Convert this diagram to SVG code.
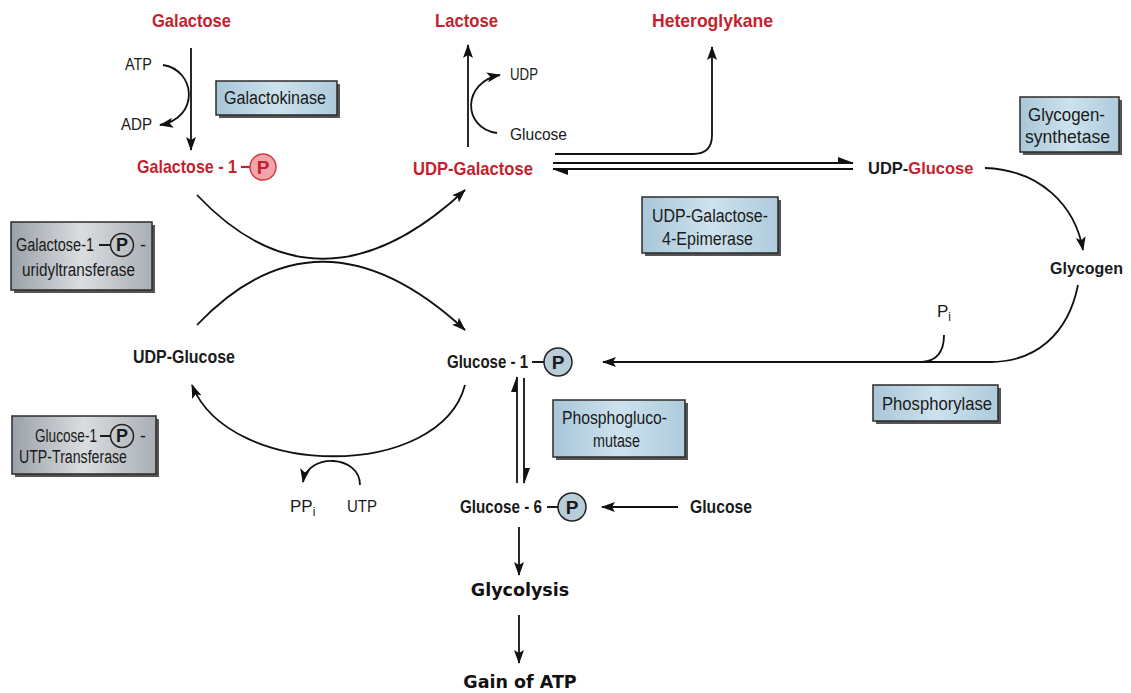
<svg xmlns="http://www.w3.org/2000/svg" width="1131" height="693" viewBox="0 0 1131 693">
<defs>
<style>
text{font-family:"Liberation Sans",Arial,sans-serif;fill:#1a1a1a}
.b{font-weight:bold;font-size:19px}
.red{fill:#c41f2e}
.s{font-size:17px}
.bx{font-size:18px}
.gl{font-family:"DejaVu Sans",Verdana,sans-serif;font-weight:bold;font-size:17.5px;fill:#111}
.c{stroke:#111;stroke-width:1.8;fill:none}
.ar{marker-end:url(#ah)}
.hf{marker-end:url(#half)}
.d{stroke:#1a1a1a;stroke-width:2}
.dr{stroke:#c41f2e;stroke-width:2.2}
.box{stroke:#2b2b2b;stroke-width:1.5}
.sh{fill:#555}
.blue{fill:url(#gb)}
.gray{fill:url(#gg)}
.pb{fill:#b9cdd9;stroke:#222;stroke-width:1.5}
.pg{fill:none;stroke:#222;stroke-width:1.5}
.pr{fill:#f4a5aa;stroke:#d23a48;stroke-width:1.5}
</style>
<linearGradient id="gb" x1="0" y1="0" x2="1" y2="0">
<stop offset="0" stop-color="#a8c6d8"/><stop offset="0.5" stop-color="#cde2ed"/><stop offset="1" stop-color="#aecbdc"/>
</linearGradient>
<linearGradient id="gg" x1="0" y1="0" x2="1" y2="0">
<stop offset="0" stop-color="#9aa1a8"/><stop offset="0.5" stop-color="#dadde0"/><stop offset="1" stop-color="#a9afb5"/>
</linearGradient>
<marker id="ah" viewBox="0 0 14 10" refX="13" refY="5" markerWidth="14" markerHeight="10" markerUnits="userSpaceOnUse" orient="auto">
<path d="M0,0 L14,5 L0,10 L3,5 z" fill="#111"/>
</marker>
<marker id="half" viewBox="0 0 16 8" refX="15" refY="6" markerWidth="16" markerHeight="8" markerUnits="userSpaceOnUse" orient="auto">
<path d="M0,0 L16,6 L0,6 z" fill="#111"/>
</marker>
</defs>
<rect width="1131" height="693" fill="#ffffff"/>

<g id="connectors">
<path class="c ar" d="M191,48 L191,150"/>
<path class="c ar" d="M163,65 C196,70 200,118 160,125"/>
<path class="c ar" d="M468,147 L468,45"/>
<path class="c ar" d="M497,133 C462,128 462,82 500,75"/>
<path class="c ar" d="M555,154 L693,154 Q712,154 712,135 L712,47"/>
<path class="c hf" d="M553,163 L853,163"/>
<path class="c hf" d="M853,169 L553,169"/>
<path class="c ar" d="M197,195 Q320,325 465,190"/>
<path class="c ar" d="M197,325 Q320,196 465,330"/>
<path class="c ar" d="M985,168 C1040,170 1075,205 1083,250"/>
<path class="c ar" d="M1078,285 C1068,335 1035,362 990,362 L603,362"/>
<path class="c" d="M944,335 C944,352 936,361 922,362"/>
<path class="c ar" d="M465,385 C440,480 230,480 192,385"/>
<path class="c ar" d="M360,485 C360,455 308,452 303,482"/>
<path class="c hf" d="M517,483 L517,377"/>
<path class="c hf" d="M524,378 L524,483"/>
<path class="c ar" d="M678,507 L602,507"/>
<path class="c ar" d="M519,527 L519,575"/>
<path class="c ar" d="M519,615 L519,663"/>
</g>

<g id="galactose"><text class="b red" x="152" y="27" textLength="79" lengthAdjust="spacingAndGlyphs">Galactose</text></g>
<g id="atp"><text class="s" x="125" y="70" textLength="27" lengthAdjust="spacingAndGlyphs">ATP</text></g>
<g id="adp"><text class="s" x="121" y="130" textLength="31" lengthAdjust="spacingAndGlyphs">ADP</text></g>
<g id="galactokinase">
<rect class="sh" x="219" y="84" width="121" height="34"/>
<rect class="box blue" x="216" y="81" width="121" height="34"/>
<text class="bx" x="224" y="104" textLength="102" lengthAdjust="spacingAndGlyphs">Galactokinase</text>
</g>
<g id="galactose-1-p">
<text class="b red" x="237" y="173" text-anchor="end" textLength="100" lengthAdjust="spacingAndGlyphs">Galactose - 1</text>
<line class="dr" x1="241" y1="167" x2="250" y2="167"/>
<circle class="pr" cx="263" cy="167" r="13"/>
<text class="b red" x="263" y="174" text-anchor="middle">P</text>
</g>
<g id="lactose"><text class="b red" x="435" y="27" textLength="63" lengthAdjust="spacingAndGlyphs">Lactose</text></g>
<g id="udp-top"><text class="s" x="510" y="80" textLength="28" lengthAdjust="spacingAndGlyphs">UDP</text></g>
<g id="glucose-top"><text class="s" x="510" y="140" textLength="57" lengthAdjust="spacingAndGlyphs">Glucose</text></g>
<g id="heteroglykane"><text class="b red" x="652" y="27" textLength="121" lengthAdjust="spacingAndGlyphs">Heteroglykane</text></g>
<g id="udp-galactose"><text class="b red" x="413" y="175" textLength="120" lengthAdjust="spacingAndGlyphs">UDP-Galactose</text></g>
<g id="udp-glucose-right"><text class="b" x="868" y="174" style="font-size:16.5px">UDP-<tspan class="red">Glucose</tspan></text></g>
<g id="glycogen-synthetase">
<rect class="sh" x="1023" y="100" width="99" height="55"/>
<rect class="box blue" x="1020" y="97" width="99" height="55"/>
<text class="bx" x="1028" y="121" textLength="77" lengthAdjust="spacingAndGlyphs">Glycogen-</text>
<text class="bx" x="1025" y="143" textLength="85" lengthAdjust="spacingAndGlyphs">synthetase</text>
</g>
<g id="glycogen"><text class="b" x="1050" y="274" style="font-size:16px">Glycogen</text></g>
<g id="pi"><text class="s" x="937" y="317">P<tspan font-size="12" dy="4">i</tspan></text></g>
<g id="phosphorylase">
<rect class="sh" x="876" y="388" width="125" height="36"/>
<rect class="box blue" x="873" y="385" width="125" height="36"/>
<text class="bx" x="882" y="410" textLength="110" lengthAdjust="spacingAndGlyphs">Phosphorylase</text>
</g>
<g id="epimerase">
<rect class="sh" x="645" y="200" width="136" height="56"/>
<rect class="box blue" x="642" y="197" width="136" height="56"/>
<text class="bx" x="652" y="222" textLength="116" lengthAdjust="spacingAndGlyphs">UDP-Galactose-</text>
<text class="bx" x="662" y="245" textLength="91" lengthAdjust="spacingAndGlyphs">4-Epimerase</text>
</g>
<g id="uridyltransferase">
<rect class="sh" x="14" y="225" width="141" height="68"/>
<rect class="box gray" x="11" y="222" width="141" height="68"/>
<text class="bx" x="94" y="251" text-anchor="end" textLength="78" lengthAdjust="spacingAndGlyphs">Galactose-1</text>
<line class="d" x1="99" y1="245" x2="110" y2="245"/>
<circle class="pg" cx="122" cy="245" r="11.5"/>
<text class="bx" x="122" y="251" text-anchor="middle" font-weight="bold">P</text>
<text class="bx" x="140" y="251">-</text>
<text class="bx" x="22" y="276" textLength="113" lengthAdjust="spacingAndGlyphs">uridyltransferase</text>
</g>
<g id="utp-transferase">
<rect class="sh" x="15" y="419" width="144" height="58"/>
<rect class="box gray" x="12" y="416" width="144" height="58"/>
<text class="bx" x="97" y="442" text-anchor="end" textLength="62" lengthAdjust="spacingAndGlyphs">Glucose-1</text>
<line class="d" x1="100" y1="436" x2="110" y2="436"/>
<circle class="pg" cx="122" cy="436" r="11.5"/>
<text class="bx" x="122" y="442" text-anchor="middle" font-weight="bold">P</text>
<text class="bx" x="140" y="442">-</text>
<text class="bx" x="19" y="463" textLength="108" lengthAdjust="spacingAndGlyphs">UTP-Transferase</text>
</g>
<g id="udp-glucose-left"><text class="b" x="133" y="363" textLength="102" lengthAdjust="spacingAndGlyphs">UDP-Glucose</text></g>
<g id="glucose-1-p">
<text class="b" x="528" y="368" text-anchor="end" textLength="81" lengthAdjust="spacingAndGlyphs">Glucose - 1</text>
<line class="d" x1="532" y1="362" x2="544" y2="362"/>
<circle class="pb" cx="558" cy="362" r="14"/>
<text class="b" x="558" y="369" text-anchor="middle">P</text>
</g>
<g id="phosphoglucomutase">
<rect class="sh" x="556" y="403" width="132" height="57"/>
<rect class="box blue" x="553" y="400" width="132" height="57"/>
<text class="bx" x="562" y="424" textLength="105" lengthAdjust="spacingAndGlyphs">Phosphogluco-</text>
<text class="bx" x="593" y="447" textLength="47" lengthAdjust="spacingAndGlyphs">mutase</text>
</g>
<g id="glucose-6-p">
<text class="b" x="542" y="513" text-anchor="end" textLength="82" lengthAdjust="spacingAndGlyphs">Glucose - 6</text>
<line class="d" x1="547" y1="507" x2="558" y2="507"/>
<circle class="pb" cx="572" cy="507" r="14"/>
<text class="b" x="572" y="514" text-anchor="middle">P</text>
</g>
<g id="glucose"><text class="b" x="690" y="513" textLength="62" lengthAdjust="spacingAndGlyphs">Glucose</text></g>
<g id="glycolysis"><text class="gl" x="520" y="596" text-anchor="middle">Glycolysis</text></g>
<g id="gain-of-atp"><text class="gl" x="520" y="688" text-anchor="middle">Gain of ATP</text></g>
<g id="ppi"><text class="s" x="290" y="512">PP<tspan font-size="12" dy="4">i</tspan></text></g>
<g id="utp"><text class="s" x="347" y="512" textLength="30" lengthAdjust="spacingAndGlyphs">UTP</text></g>
</svg>
